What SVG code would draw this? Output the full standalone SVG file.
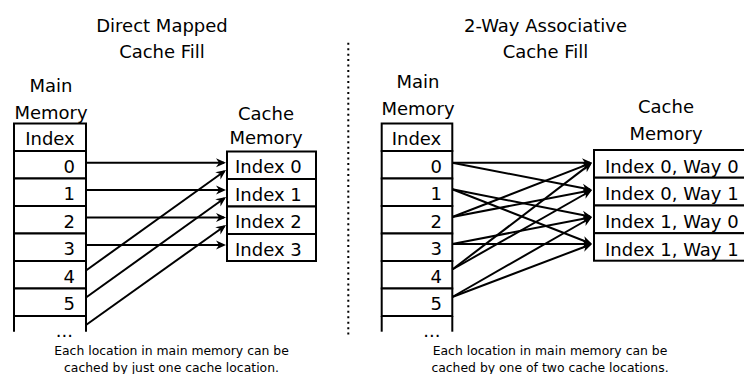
<svg xmlns="http://www.w3.org/2000/svg" width="744" height="374" viewBox="0 0 744 374">
<style>
text{font-family:"DejaVu Sans","Liberation Sans",sans-serif;fill:#000}
.t{font-size:18px}
.m{text-anchor:middle}
.e{text-anchor:end}
.s{font-size:12.4px;text-anchor:middle}
.box{fill:#fff;stroke:#000;stroke-width:2}
.ln{stroke:#000;stroke-width:2;fill:none}
.c{stroke:#000;stroke-width:2;fill:none;marker-end:url(#ah)}
</style>
<defs>
<marker id="ah" markerUnits="userSpaceOnUse" markerWidth="12" markerHeight="10" viewBox="-10 -5 12 10" refX="0" refY="0" orient="auto">
<path d="M2,0 L-8,-4.5 L-5,0 L-8,4.5 Z" fill="#000"/>
</marker>
</defs>
<rect width="744" height="374" fill="#fff"/>

<g id="titles">
<text class="t m" x="162" y="32">Direct Mapped</text>
<text class="t m" x="162" y="58">Cache Fill</text>
<text class="t m" x="545.5" y="32">2-Way Associative</text>
<text class="t m" x="545.5" y="58">Cache Fill</text>
</g>

<line id="divider" x1="348.3" y1="42.7" x2="348.3" y2="338" stroke="#000" stroke-width="2" stroke-dasharray="2 3.47"/>

<!-- Left: direct mapped -->
<g id="dm-main">
<text class="t m" x="51" y="92">Main</text>
<text class="t m" x="51" y="119">Memory</text>
<line class="ln" x1="14" y1="316" x2="14" y2="331.7"/>
<line class="ln" x1="86" y1="316" x2="86" y2="331.7"/>
<text class="t e" x="73" y="337">...</text>
</g>
<g id="dm-main-index"><rect class="box" x="14" y="123.5" width="72" height="27.5"/><text class="t m" x="50" y="145.3">Index</text></g>
<g id="dm-main-0"><rect class="box" x="14" y="151" width="72" height="27.5"/><text class="t e" x="75" y="172.8">0</text></g>
<g id="dm-main-1"><rect class="box" x="14" y="178.5" width="72" height="27.5"/><text class="t e" x="75" y="200.3">1</text></g>
<g id="dm-main-2"><rect class="box" x="14" y="206" width="72" height="27.5"/><text class="t e" x="75" y="227.8">2</text></g>
<g id="dm-main-3"><rect class="box" x="14" y="233.5" width="72" height="27.5"/><text class="t e" x="75" y="255.3">3</text></g>
<g id="dm-main-4"><rect class="box" x="14" y="261" width="72" height="27.5"/><text class="t e" x="75" y="282.8">4</text></g>
<g id="dm-main-5"><rect class="box" x="14" y="288.5" width="72" height="27.5"/><text class="t e" x="75" y="310.3">5</text></g>

<g id="dm-cache">
<text class="t m" x="266" y="120">Cache</text>
<text class="t m" x="266" y="144">Memory</text>
</g>
<g id="dm-cache-0"><rect class="box" x="227" y="151.5" width="89" height="27.5"/><text class="t" x="235" y="173.3">Index 0</text></g>
<g id="dm-cache-1"><rect class="box" x="227" y="179" width="89" height="27.5"/><text class="t" x="235" y="200.8">Index 1</text></g>
<g id="dm-cache-2"><rect class="box" x="227" y="206.5" width="89" height="27.5"/><text class="t" x="235" y="228.3">Index 2</text></g>
<g id="dm-cache-3"><rect class="box" x="227" y="234" width="89" height="27"/><text class="t" x="235" y="255.8">Index 3</text></g>

<g id="dm-connectors">
<line class="c" x1="86" y1="162.7" x2="224" y2="162.7"/>
<line class="c" x1="86" y1="190" x2="224" y2="190"/>
<line class="c" x1="86" y1="217.5" x2="224" y2="217.5"/>
<line class="c" x1="86" y1="245" x2="224" y2="245"/>
<line class="c" x1="86" y1="270.5" x2="224.4" y2="171.2"/>
<line class="c" x1="86" y1="297.5" x2="224.4" y2="198.2"/>
<line class="c" x1="86" y1="325" x2="224.4" y2="226.2"/>
</g>

<text class="s" x="171.5" y="355">Each location in main memory can be</text>
<text class="s" x="171.5" y="371.7">cached by just one cache location.</text>

<!-- Right: 2-way associative -->
<g id="sa-main">
<text class="t m" x="418" y="88">Main</text>
<text class="t m" x="418" y="115">Memory</text>
<line class="ln" x1="381.7" y1="316" x2="381.7" y2="331.7"/>
<line class="ln" x1="452.3" y1="316" x2="452.3" y2="331.7"/>
<text class="t e" x="440.5" y="337">...</text>
</g>
<g id="sa-main-index"><rect class="box" x="381.7" y="123.5" width="70.6" height="27.5"/><text class="t m" x="416.5" y="145.3">Index</text></g>
<g id="sa-main-0"><rect class="box" x="381.7" y="151" width="70.6" height="27.5"/><text class="t e" x="442" y="172.8">0</text></g>
<g id="sa-main-1"><rect class="box" x="381.7" y="178.5" width="70.6" height="27.5"/><text class="t e" x="442" y="200.3">1</text></g>
<g id="sa-main-2"><rect class="box" x="381.7" y="206" width="70.6" height="27.5"/><text class="t e" x="442" y="227.8">2</text></g>
<g id="sa-main-3"><rect class="box" x="381.7" y="233.5" width="70.6" height="27.5"/><text class="t e" x="442" y="255.3">3</text></g>
<g id="sa-main-4"><rect class="box" x="381.7" y="261" width="70.6" height="27.5"/><text class="t e" x="442" y="282.8">4</text></g>
<g id="sa-main-5"><rect class="box" x="381.7" y="288.5" width="70.6" height="27.5"/><text class="t e" x="442" y="310.3">5</text></g>

<g id="sa-cache">
<text class="t m" x="666" y="113">Cache</text>
<text class="t m" x="666" y="140">Memory</text>
</g>
<g id="sa-cache-00"><rect class="box" x="594" y="150" width="160" height="27.7"/><text class="t" x="605" y="172.5">Index 0, Way 0</text></g>
<g id="sa-cache-01"><rect class="box" x="594" y="177.7" width="160" height="27.8"/><text class="t" x="605" y="200.3">Index 0, Way 1</text></g>
<g id="sa-cache-10"><rect class="box" x="594" y="205.5" width="160" height="27.7"/><text class="t" x="605" y="228">Index 1, Way 0</text></g>
<g id="sa-cache-11"><rect class="box" x="594" y="233.2" width="160" height="27.5"/><text class="t" x="605" y="255.7">Index 1, Way 1</text></g>

<g id="sa-connectors">
<line class="c" x1="452.3" y1="162.7" x2="590" y2="162.7"/>
<line class="c" x1="452.3" y1="162.7" x2="590.04" y2="189.6"/>
<line class="c" x1="452.3" y1="189.3" x2="590.04" y2="216.6"/>
<line class="c" x1="452.3" y1="189.3" x2="590.14" y2="243.3"/>
<line class="c" x1="452.3" y1="217" x2="590.14" y2="163.4"/>
<line class="c" x1="452.3" y1="217" x2="590.04" y2="190.4"/>
<line class="c" x1="452.3" y1="244" x2="590.04" y2="217.4"/>
<line class="c" x1="452.3" y1="244" x2="590" y2="244"/>
<line class="c" x1="452.3" y1="269.5" x2="590.41" y2="163.9"/>
<line class="c" x1="452.3" y1="269.5" x2="590.26" y2="191"/>
<line class="c" x1="452.3" y1="297" x2="590.26" y2="218"/>
<line class="c" x1="452.3" y1="297" x2="590.13" y2="244.7"/>
</g>

<text class="s" x="550" y="355">Each location in main memory can be</text>
<text class="s" x="550" y="371.7">cached by one of two cache locations.</text>
</svg>
